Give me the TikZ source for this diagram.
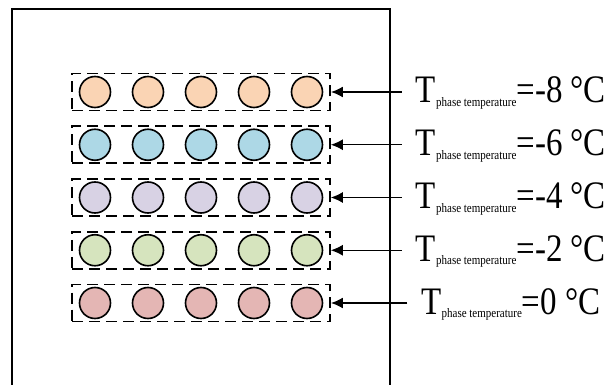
\documentclass[tikz,border=0pt]{standalone}
\usepackage{fontspec}
\setmainfont{Liberation Serif}
\usetikzlibrary{arrows.meta,positioning}
\definecolor{peach}{RGB}{250,212,180}
\definecolor{skyblue}{RGB}{173,216,230}
\definecolor{lavender}{RGB}{216,210,228}
\definecolor{sage}{RGB}{214,228,190}
\definecolor{rose}{RGB}{228,182,180}

\begin{document}
\begin{tikzpicture}
  [x=1pt,y=-1pt,
    every node/.style={inner sep=0pt},
    bead/.style={circle,draw,line width=1.6pt,minimum size=31pt},
    group/.style={draw,dash pattern=on 11pt off 6pt,line width=1.6pt,minimum width=258pt,minimum height=37pt},
    lbl/.style={anchor=base,font=\fontsize{33}{36}\selectfont}]
  \useasboundingbox (0,0) rectangle (608,385);
  \draw[line width=1.8pt] (12,385) -- (12,9) -- (390,9) -- (390,385);
  \foreach \r/\col/\val/\w in {1/peach/-8/2.2,2/skyblue/-6/1.4,3/lavender/-4/1.4,4/sage/-2/1.4,5/rose/0/2.2} {
    \node[group] (g\r) at (201,{92+52.75*(\r-1)}) {};
    \foreach \i in {1,...,5}
      \node[bead,fill=\col] (c\r\i) at ({95+53*(\i-1)},{92+52.75*(\r-1)}) {};
    \node[lbl] (t\r) at (511,{103+52.75*(\r-1)}) {\scalebox{1}[1.18]{T\raisebox{-3pt}{\fontsize{11}{11}\selectfont phase temperature}=\val{} °C}};
    \draw[-{Latex[length=12pt,width=11pt]},line width=\w pt] ([xshift=-14pt]g\r.east -| t\r.west) -- (g\r.east);
  }
\end{tikzpicture}
\end{document}
